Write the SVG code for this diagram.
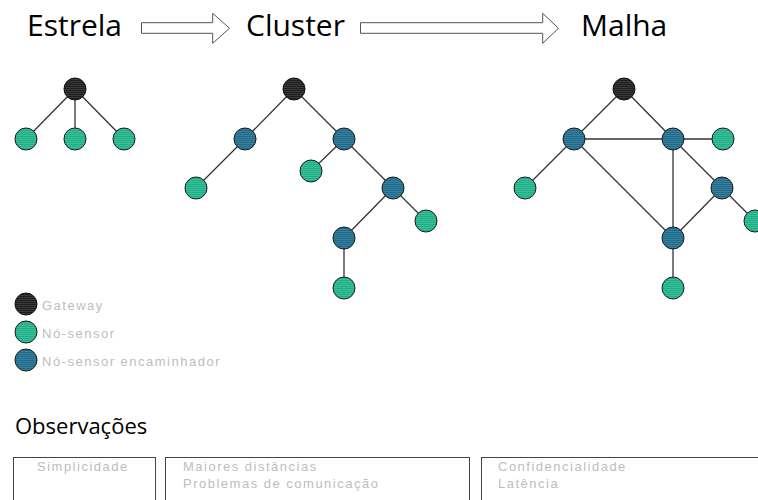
<svg xmlns="http://www.w3.org/2000/svg" width="758" height="500" viewBox="0 0 758 500">
<defs>
<pattern id="pk" width="4" height="2" patternUnits="userSpaceOnUse"><rect width="4" height="2" fill="#1e1e1e"/><rect y="1" width="4" height="1" fill="#3a3a3a"/></pattern>
<pattern id="pg" width="4" height="2" patternUnits="userSpaceOnUse"><rect width="4" height="2" fill="#1fae88"/><rect y="1" width="4" height="1" fill="#3cbf98"/></pattern>
<pattern id="pb" width="4" height="2" patternUnits="userSpaceOnUse"><rect width="4" height="2" fill="#1f6a8a"/><rect y="1" width="4" height="1" fill="#3a7f9c"/></pattern>
</defs>
<style>
.t{font-family:"Open Sans","Liberation Sans",sans-serif;fill:#000}
.l{font-family:"Liberation Sans",sans-serif;font-size:13px;fill:#bdbdbd;letter-spacing:1.5px}
.e{stroke:#333;stroke-width:1.3;fill:none}
.ar{fill:#fff;stroke:#555;stroke-width:1}
.gw{fill:url(#pk);stroke:#111;stroke-width:1}
.sn{fill:url(#pg);stroke:#1a1a1a;stroke-width:1}
.fw{fill:url(#pb);stroke:#1a1a1a;stroke-width:1}
.bx{fill:#fff;stroke:#444;stroke-width:1}
</style>
<rect width="758" height="500" fill="#fff"/>
<g id="titles">
<text class="t" x="27" y="36" font-size="30">Estrela</text>
<text class="t" x="246" y="36" font-size="30">Cluster</text>
<text class="t" x="581" y="36" font-size="30">Malha</text>
<path class="ar" d="M141.5,22.7 H212.7 V13.3 L229.5,28.3 L212.7,43.3 V33.3 H141.5 Z"/>
<path class="ar" d="M360.5,22.7 H542.7 V13.3 L558.5,28.3 L542.7,43.3 V33.3 H360.5 Z"/>
</g>
<g id="connectors">
<line class="e" x1="75" y1="89" x2="26" y2="139"/>
<line class="e" x1="75" y1="89" x2="75" y2="139"/>
<line class="e" x1="75" y1="89" x2="124" y2="139"/>
<line class="e" x1="294" y1="89" x2="245" y2="139"/>
<line class="e" x1="294" y1="89" x2="344" y2="139"/>
<line class="e" x1="245" y1="139" x2="196" y2="188"/>
<line class="e" x1="344" y1="139" x2="311" y2="171"/>
<line class="e" x1="344" y1="139" x2="393" y2="188"/>
<line class="e" x1="393" y1="188" x2="426" y2="221"/>
<line class="e" x1="393" y1="188" x2="344" y2="238"/>
<line class="e" x1="344" y1="238" x2="344" y2="288"/>
<line class="e" x1="624" y1="89" x2="574" y2="139"/>
<line class="e" x1="624" y1="89" x2="673" y2="139"/>
<line class="e" x1="574" y1="139" x2="673" y2="139"/>
<line class="e" x1="673" y1="139" x2="723" y2="139"/>
<line class="e" x1="574" y1="139" x2="525" y2="188"/>
<line class="e" x1="574" y1="139" x2="673" y2="238"/>
<line class="e" x1="673" y1="139" x2="673" y2="238"/>
<line class="e" x1="673" y1="139" x2="722" y2="188"/>
<line class="e" x1="722" y1="188" x2="673" y2="238"/>
<line class="e" x1="722" y1="188" x2="755" y2="221"/>
<line class="e" x1="673" y1="238" x2="673" y2="288"/>
</g>
<g id="star-gw"><circle class="gw" cx="75" cy="89" r="11"/></g>
<g id="star-s1"><circle class="sn" cx="26" cy="139" r="11"/></g>
<g id="star-s2"><circle class="sn" cx="75" cy="139" r="11"/></g>
<g id="star-s3"><circle class="sn" cx="124" cy="139" r="11"/></g>
<g id="cl-gw"><circle class="gw" cx="294" cy="89" r="11"/></g>
<g id="cl-f1"><circle class="fw" cx="245" cy="139" r="11"/></g>
<g id="cl-f2"><circle class="fw" cx="344" cy="139" r="11"/></g>
<g id="cl-s1"><circle class="sn" cx="196" cy="188" r="11"/></g>
<g id="cl-s2"><circle class="sn" cx="311" cy="171" r="11"/></g>
<g id="cl-f3"><circle class="fw" cx="393" cy="188" r="11"/></g>
<g id="cl-s3"><circle class="sn" cx="426" cy="221" r="11"/></g>
<g id="cl-f4"><circle class="fw" cx="344" cy="238" r="11"/></g>
<g id="cl-s4"><circle class="sn" cx="344" cy="288" r="11"/></g>
<g id="me-gw"><circle class="gw" cx="624" cy="89" r="11"/></g>
<g id="me-f1"><circle class="fw" cx="574" cy="139" r="11"/></g>
<g id="me-f2"><circle class="fw" cx="673" cy="139" r="11"/></g>
<g id="me-s1"><circle class="sn" cx="723" cy="139" r="11"/></g>
<g id="me-s2"><circle class="sn" cx="525" cy="188" r="11"/></g>
<g id="me-f3"><circle class="fw" cx="722" cy="188" r="11"/></g>
<g id="me-s3"><circle class="sn" cx="755" cy="221" r="11"/></g>
<g id="me-f4"><circle class="fw" cx="673" cy="238" r="11"/></g>
<g id="me-s4"><circle class="sn" cx="673" cy="288" r="11"/></g>
<g id="legend">
<circle class="gw" cx="26" cy="304" r="11"/>
<text class="l" x="42" y="310">Gateway</text>
<circle class="sn" cx="26" cy="332" r="11"/>
<text class="l" x="42" y="338">Nó-sensor</text>
<circle class="fw" cx="26" cy="360" r="11"/>
<text class="l" x="42" y="366">Nó-sensor encaminhador</text>
</g>
<g id="observacoes">
<text class="t" x="15" y="434" font-size="22">Observações</text>
<rect class="bx" x="13.5" y="457.5" width="142" height="60"/>
<text class="l" x="37" y="471">Simplicidade</text>
<rect class="bx" x="165.5" y="457.5" width="304" height="60"/>
<text class="l" x="183" y="471">Maiores distâncias</text>
<text class="l" x="183" y="488">Problemas de comunicação</text>
<rect class="bx" x="481.5" y="457.5" width="300" height="60"/>
<text class="l" x="498" y="471">Confidencialidade</text>
<text class="l" x="498" y="488">Latência</text>
</g>
</svg>
